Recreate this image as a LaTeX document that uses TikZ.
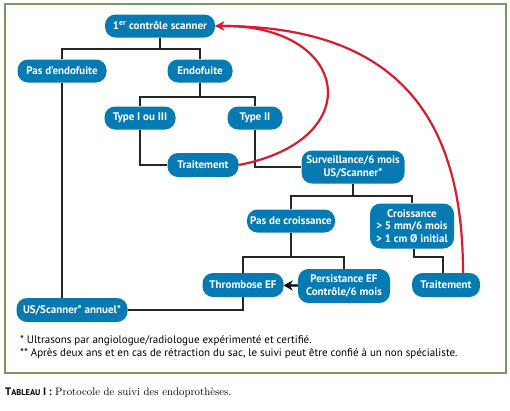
\documentclass[tikz,border=0pt]{standalone}
\usepackage{fontspec}
\newfontfamily\ptsans{PT Sans}
\usetikzlibrary{arrows.meta}
\definecolor{boxblue}{RGB}{6,122,178}
\definecolor{loopred}{RGB}{214,28,46}
\definecolor{framegreen}{RGB}{120,152,96}
\tikzset{
  box/.style={fill=boxblue, text=white, rounded corners=10.5pt, inner sep=1pt,
    font=\ptsans\bfseries\fontsize{11}{12.5}\selectfont, align=center, minimum height=23pt},
  link/.style={draw=black!85, line width=1.1pt},
  loop/.style={draw=loopred, line width=2.2pt, -{Stealth[length=9pt,width=9pt]}},
  note/.style={anchor=west, inner sep=0pt, font=\ptsans\fontsize{11}{12}\selectfont}
}
\begin{document}
\begin{tikzpicture}[x=1pt,y=-1pt]
      \useasboundingbox (0,0) rectangle (510,410);
      \draw[framegreen, line width=1.4pt] (5,4) rectangle (506,373);
      % boxes
      \node[box, minimum width=110pt] (scan) at (160,26) {1\textsuperscript{er} contrôle scanner};
      \node[box, minimum width=89pt] (noleak) at (62,71) {Pas d’endofuite};
      \node[box, minimum width=65pt] (leak) at (200,71) {Endofuite};
      \node[box, minimum width=71pt] (typeI) at (140,118) {Type I ou III};
      \node[box, minimum width=55pt] (typeII) at (255,118) {Type II};
      \node[box, minimum width=71pt, minimum height=24pt] (treatA) at (203,165) {Traitement};
      \node[box, minimum width=103pt, minimum height=33pt] (watch) at (353,167) {Surveillance/6 mois\\US/Scanner*};
      \node[box, minimum width=88pt] (nogrow) at (291,221) {Pas de croissance};
      \node[box, minimum width=84pt, minimum height=45pt] (grow) at (412,226) {Croissance\\> 5 mm/6 mois\\> 1 cm Ø initial};
      \node[box, minimum width=81pt, minimum height=24pt] (thromb) at (243,285) {Thrombose EF};
      \node[box, minimum width=92pt, minimum height=34pt] (persist) at (344,286) {Persistance EF\\Contrôle/6 mois};
      \node[box, minimum width=68pt, minimum height=24pt] (treatB) at (446,285) {Traitement};
      \node[box, minimum width=111pt, minimum height=24pt] (annual) at (72,310) {US/Scanner* annuel*};
      % tree
      \coordinate (j1) at (160,49); \coordinate (j2) at (200,97);
      \coordinate (j3) at (353,196); \coordinate (j4) at (291,257);
      \coordinate (j5) at (414,257);
      \draw[link] (scan) -- (j1);
      \draw[link] (noleak) |- (j1) -| (leak);
      \draw[link] (leak) -- (j2);
      \draw[link] (typeI) |- (j2) -| (typeII);
      \draw[link] (typeI) |- (treatA);
      \draw[link] (typeII) |- (watch);
      \draw[link] (watch) -- (j3);
      \draw[link] (nogrow) |- (j3) -| (grow);
      \draw[link] (nogrow) -- (j4);
      \draw[link] (thromb) |- (j4) -| (persist);
      \draw[link] (j5 |- grow.south) -- (j5) -| ([xshift=-3pt]treatB.north);
      \draw[link] (noleak.south) -- (noleak.south |- annual.north);
      \draw[link] (thromb) |- (annual);
      \draw[line width=2.2pt, -{Stealth[length=9pt,width=10pt]}] (persist) -- (thromb);
      % loops back to the first scan
      \draw[loop] (treatA.east) .. controls (370,140) and (350,24) .. (scan.east);
      \draw[loop] ([xshift=17pt]treatB.north) .. controls (463,120) and (400,26) .. (scan.east);
      % notes
      \node[note] (note1) at (20,341) {* Ultrasons par angiologue/radiologue expérimenté et certifié.};
      \node[note] (note2) at (20,354) {** Après deux ans et en cas de rétraction du sac, le suivi peut être confié à un non spécialiste.};
      \node[anchor=west, inner sep=0pt] (caption) at (5,393) {{\ptsans\bfseries\fontsize{10.8}{12}\selectfont T{\fontsize{8.4}{10}\selectfont ABLEAU} I :} {\fontsize{10.8}{12}\selectfont Protocole de suivi des endoprothèses.}};
    \end{tikzpicture}
\end{document}
